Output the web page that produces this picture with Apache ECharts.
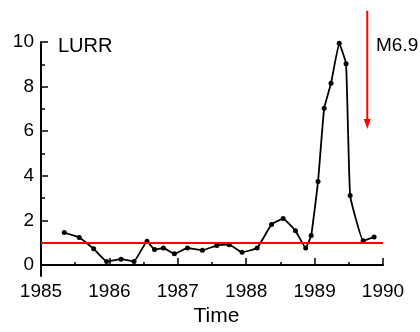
<!DOCTYPE html>
<html>
<head>
<meta charset="utf-8">
<script src="https://cdn.jsdelivr.net/npm/echarts@6/dist/echarts.min.js"></script>
<style>
  html, body { margin: 0; padding: 0; background: #fff; }
  #chart { width: 420px; height: 332px; }
</style>
</head>
<body>
<div id="chart"></div>
<script>
var myChart = echarts.init(document.getElementById('chart'));

// LURR values (time in decimal years)
var years = [1985.34, 1985.56, 1985.77, 1985.96, 1986.17, 1986.36, 1986.55, 1986.66, 1986.79, 1986.95,
             1987.14, 1987.36, 1987.57, 1987.75, 1987.94, 1988.16, 1988.37, 1988.54, 1988.72, 1988.87,
             1988.95, 1989.05, 1989.14, 1989.24, 1989.36, 1989.46, 1989.52, 1989.71, 1989.87];
var lurr = [1.45, 1.23, 0.73, 0.16, 0.26, 0.16, 1.06, 0.69, 0.76, 0.50,
            0.76, 0.66, 0.87, 0.91, 0.57, 0.76, 1.82, 2.08, 1.53, 0.76,
            1.32, 3.74, 7.03, 8.15, 9.94, 9.03, 3.11, 1.09, 1.25];

var yMajor = [0, 2, 4, 6, 8, 10];
var yMinor = [1, 3, 5, 7, 9];
var baseLevel = 1;

// earthquake arrow: [time, top, tip]
var quake = [[1989.77, 11.4, 6.1]];

var font = 'Liberation Sans, Arial, sans-serif';

myChart.setOption({
    animation: false,
    grid: { left: 41, right: 37, top: 42, bottom: 52 },
    xAxis: {
        type: 'value',
        min: 1985,
        max: 1990,
        interval: 1,
        name: 'Time',
        nameLocation: 'middle',
        nameGap: 29,
        nameTextStyle: { fontFamily: font, fontSize: 21, color: '#000', padding: [0, 0, 0, 9] },
        splitLine: { show: false },
        axisLine: { lineStyle: { color: '#000', width: 2 } },
        axisTick: { inside: true, length: 7, lineStyle: { color: '#000', width: 1.5 } },
        minorTick: { show: true, splitNumber: 2, length: 3, lineStyle: { color: '#000', width: 1.5 } },
        axisLabel: {
            margin: 6, fontFamily: font, fontSize: 19, color: '#000',
            formatter: function (v) { return String(v); }
        }
    },
    yAxis: [{
        type: 'value',
        min: -0.5,
        max: 10,
        splitLine: { show: false },
        axisLine: { show: true, lineStyle: { color: '#000', width: 2 } },
        axisTick: { show: true, inside: true, length: 7, customValues: yMajor, lineStyle: { color: '#000', width: 1.5 } },
        axisLabel: { customValues: yMajor, margin: 7, fontFamily: font, fontSize: 19, color: '#000' }
    }, {
        type: 'value',
        position: 'left',
        min: -0.5,
        max: 10,
        splitLine: { show: false },
        axisLine: { show: false },
        axisTick: { show: true, inside: true, length: 4, customValues: yMinor, lineStyle: { color: '#000', width: 1.5 } },
        axisLabel: { show: false }
    }],
    series: [{
        type: 'line',
        data: years.map(function (t, i) { return [t, lurr[i]]; }),
        smooth: 0.1,
        symbol: 'circle',
        symbolSize: 5,
        itemStyle: { color: '#000' },
        lineStyle: { color: '#000', width: 1.8 },
        markLine: {
            silent: true,
            symbol: 'none',
            label: { show: false },
            lineStyle: { color: '#ff0000', width: 2, type: 'solid' },
            data: [{ yAxis: baseLevel }]
        },
        z: 3
    }, {
        type: 'custom',
        clip: false,
        data: quake,
        renderItem: function (params, api) {
            var top = api.coord([api.value(0), api.value(1)]);
            var tip = api.coord([api.value(0), api.value(2)]);
            return {
                type: 'group',
                children: [{
                    type: 'line',
                    shape: { x1: top[0], y1: top[1], x2: tip[0], y2: tip[1] - 9 },
                    style: { stroke: '#ff0000', lineWidth: 2 }
                }, {
                    type: 'polygon',
                    shape: { points: [[tip[0] - 3.5, tip[1] - 10], [tip[0] + 3.5, tip[1] - 10], [tip[0], tip[1]]] },
                    style: { fill: '#ff0000' }
                }]
            };
        },
        z: 4
    }],
    graphic: [{
        type: 'text',
        style: { x: 58, y: 46.5, text: 'LURR', textVerticalAlign: 'middle', font: '20px ' + font, fill: '#000' }
    }, {
        type: 'text',
        style: { x: 376, y: 45.5, text: 'M6.9', textVerticalAlign: 'middle', font: '19px ' + font, fill: '#000' }
    }]
});
</script>
</body>
</html>
